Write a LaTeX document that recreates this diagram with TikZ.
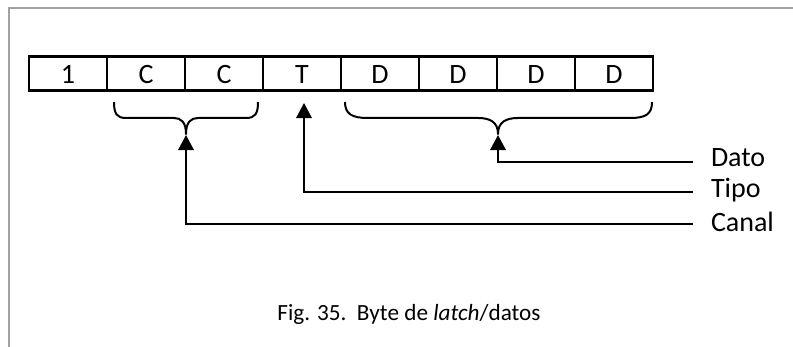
\documentclass[tikz,border=0pt]{standalone}
\usepackage{fontspec}
\setmainfont{Carlito}
\usetikzlibrary{arrows.meta}

\begin{document}
\begin{tikzpicture}[x=0.5pt,y=-0.5pt,
  bitcell/.style={draw, line width=1.3pt, minimum width=39pt, minimum height=17pt,
    inner sep=0pt, outer sep=0pt, text height=10pt, text depth=0pt,
    font=\fontsize{14}{17}\selectfont},
  lbl/.style={anchor=west, inner xsep=9pt, inner ysep=0pt, outer sep=0pt,
    text depth=3pt, font=\fontsize{14}{17}\selectfont},
  bracepath/.style={line width=1pt, line join=round},
  arr/.style={line width=1pt, -{Triangle[width=7.8pt,length=7.6pt]}},
  pageframe/.style={draw=black!37, line width=1pt}]
\useasboundingbox (0,0) rectangle (793,347);

% page border (top and left edges)
\draw[pageframe] (9,347) -- (9,8) -- (793,8);

% the eight bits of the byte
\foreach \t [count=\i] in {1,C,C,T,D,D,D,D}
  \node[bitcell] (c\i) at ({78*\i-10},73.3) {\t};

% brace under the channel bits
\draw[bracepath] (114,102) .. controls (114,114) and (117,118) .. (126,118)
  -- (174,118) .. controls (181,118) and (186,122) .. (186,134)
  .. controls (186,122) and (191,118) .. (198,118)
  -- (246,118) .. controls (255,118) and (258,114) .. (258,102);

% brace under the data bits
\draw[bracepath] (345,102) .. controls (345,114) and (352,118) .. (368,118)
  -- (478,118) .. controls (490,118) and (498,122) .. (498,134)
  .. controls (498,122) and (506,118) .. (518,118)
  -- (630,118) .. controls (646,118) and (652,114) .. (652,102);

\coordinate (ccTip) at (186,135);
\coordinate (tTip) at (304,103);
\coordinate (dTip) at (498,135);

% labels
\node[lbl, text height=7pt] (dato) at (693,162.5) {Dato};
\node[lbl, text height=9pt] (tipo) at (693,192) {Tipo};
\node[lbl, text height=11pt] (canal) at (693,223.7) {Canal};

% leaders
\draw[arr] (dato.west) -| (dTip);
\draw[arr] (tipo.west) -| (tTip);
\draw[arr] (canal.west) -| (ccTip);

% caption
\node[anchor=base west, inner sep=0pt, font=\fontsize{11.6}{14}\selectfont] (caption)
  at (277,321) {Fig. 35.\ \ Byte de \textit{latch}/datos};
\end{tikzpicture}
\end{document}
